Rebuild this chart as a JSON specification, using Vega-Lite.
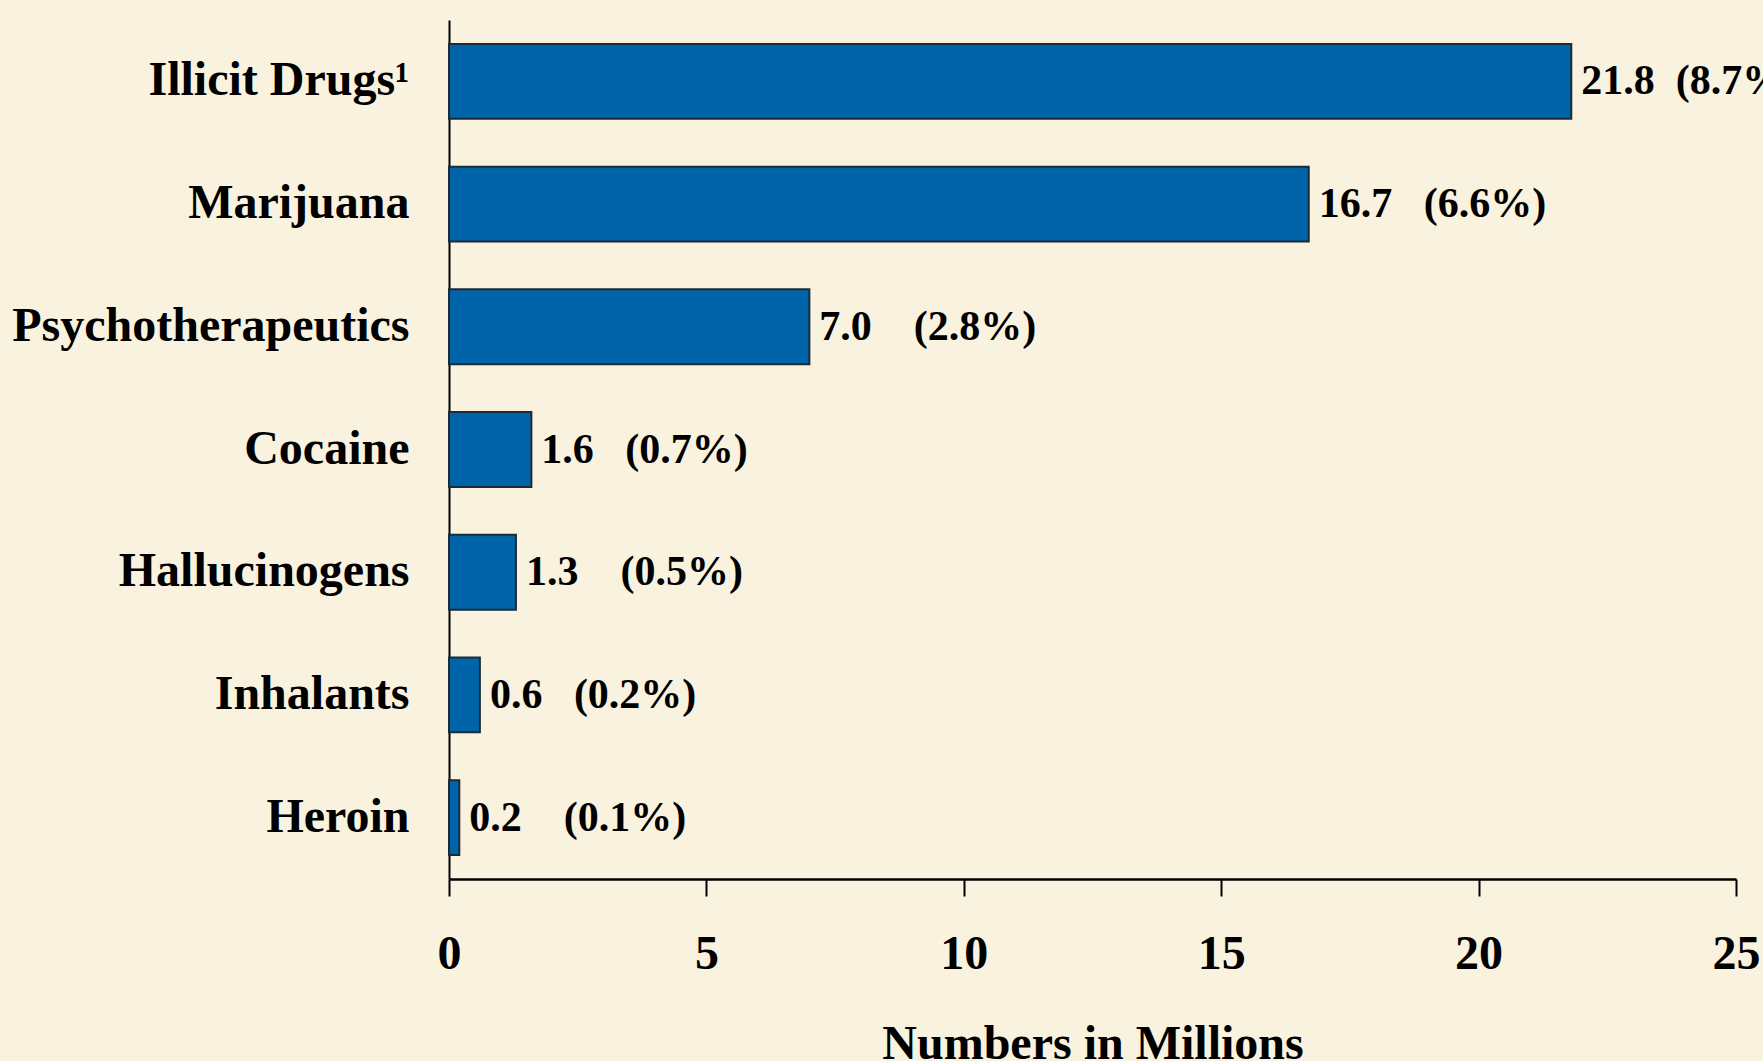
{
  "$schema": "https://vega.github.io/schema/vega-lite/v6.json",
  "width": 1287,
  "height": 859,
  "autosize": {"type": "none"},
  "padding": {"left": 449, "top": 20, "right": 27, "bottom": 182},
  "background": "#F9F2DF",
  "config": {"view": {"stroke": null}, "font": "Liberation Serif"},
  "data": {
    "values": [
      {"drug": "Illicit Drugs¹", "millions": 21.8, "label": "21.8\u00a0\u00a0(8.7%)"},
      {"drug": "Marijuana", "millions": 16.7, "label": "16.7\u00a0\u00a0\u00a0(6.6%)"},
      {"drug": "Psychotherapeutics", "millions": 7.0, "label": "7.0\u00a0\u00a0\u00a0\u00a0(2.8%)"},
      {"drug": "Cocaine", "millions": 1.6, "label": "1.6\u00a0\u00a0\u00a0(0.7%)"},
      {"drug": "Hallucinogens", "millions": 1.3, "label": "1.3\u00a0\u00a0\u00a0\u00a0(0.5%)"},
      {"drug": "Inhalants", "millions": 0.6, "label": "0.6\u00a0\u00a0\u00a0(0.2%)"},
      {"drug": "Heroin", "millions": 0.2, "label": "0.2\u00a0\u00a0\u00a0\u00a0(0.1%)"}
    ]
  },
  "encoding": {
    "y": {
      "field": "drug",
      "type": "nominal",
      "sort": null,
      "scale": {"paddingInner": 0.39, "paddingOuter": 0.195},
      "axis": {
        "title": null,
        "domainColor": "#000000",
        "domainWidth": 2,
        "ticks": false,
        "labelPadding": 40,
        "labelFontSize": 48,
        "labelFont": "Liberation Serif",
        "labelFontWeight": "bold",
        "labelColor": "#000000",
        "labelLimit": 0,
        "grid": false
      }
    },
    "x": {
      "field": "millions",
      "type": "quantitative",
      "scale": {"domain": [0, 25], "nice": false},
      "axis": {
        "title": "Numbers in Millions",
        "values": [0, 5, 10, 15, 20, 25],
        "format": "d",
        "domainColor": "#000000",
        "domainWidth": 2.5,
        "tickColor": "#000000",
        "tickWidth": 2,
        "tickSize": 17,
        "labelPadding": 34,
        "labelFontSize": 48,
        "labelFont": "Liberation Serif",
        "labelFontWeight": "bold",
        "labelColor": "#000000",
        "labelFlush": false,
        "labelOverlap": false,
        "titleFont": "Liberation Serif",
        "titleFontSize": 48,
        "titleFontWeight": "bold",
        "titleColor": "#000000",
        "titlePadding": 42,
        "grid": false
      }
    }
  },
  "layer": [
    {
      "mark": {"type": "bar", "fill": "#0064A8", "stroke": "#1E2B36", "strokeWidth": 2}
    },
    {
      "mark": {
        "type": "text",
        "align": "left",
        "baseline": "middle",
        "dx": 10,
        "fontSize": 42,
        "fontWeight": "bold",
        "font": "Liberation Serif",
        "color": "#000000",
        "clip": false
      },
      "encoding": {"text": {"field": "label"}}
    }
  ]
}
